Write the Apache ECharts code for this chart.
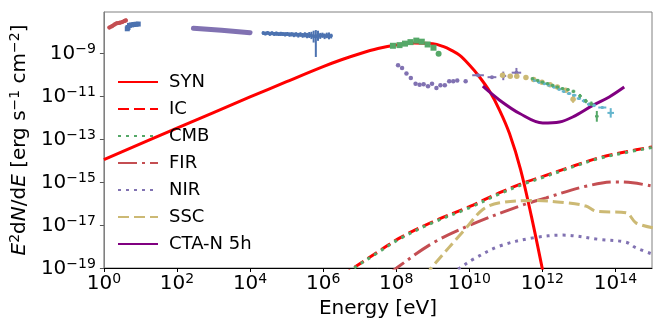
<!DOCTYPE html>
<html><head><meta charset="utf-8">
<script src="https://cdn.jsdelivr.net/npm/echarts@6/dist/echarts.min.js"></script>
<style>html,body{margin:0;padding:0;background:#fff}#c{width:664px;height:332px}</style>
</head><body><div id="c"></div>
<script>
// All values are log10: x = log10(E / eV), y = log10(E^2 dN/dE / erg s^-1 cm^-2)
const xTicks = [0, 2, 4, 6, 8, 10, 12, 14];
const yTicks = [-19, -17, -15, -13, -11, -9];

// ---- model curves ----
const synX = [0, 2, 4, 5, 6, 6.5, 7, 7.5, 8, 8.5, 9, 9.28, 9.5, 9.74, 10.01, 10.28, 10.56, 10.83, 11.1, 11.4, 11.7, 12.0, 12.2];
const synY = [-13.96, -12.50, -11.05, -10.34, -9.64, -9.32, -9.04, -8.80, -8.63, -8.54, -8.57, -8.70, -8.87, -9.12, -9.58, -10.12, -10.80, -11.67, -12.75, -14.40, -16.6, -19.05, -20.8];

const icX = [6.5, 6.83, 7.5, 8.1, 9.0, 10.0, 10.83, 11.56, 12.0, 12.83, 13.56, 14.29, 15.0];
const icY = [-19.4, -19.0, -18.25, -17.6, -16.85, -16.15, -15.5, -15.0, -14.75, -14.27, -13.87, -13.6, -13.37];

const cmbX = [6.5, 6.85, 7.5, 8.1, 9.0, 10.0, 10.83, 11.56, 12.0, 12.83, 13.56, 14.29, 15.0];
const cmbY = [-19.45, -19.0, -18.28, -17.64, -16.89, -16.2, -15.55, -15.05, -14.8, -14.3, -13.9, -13.63, -13.4];

const firX = [7.8, 8.01, 9.01, 10.1, 11.38, 12.1, 13.19, 14.01, 14.47, 15.02];
const firY = [-19.3, -19.0, -17.83, -16.95, -16.12, -15.74, -15.2, -15.0, -15.04, -15.2];

const nirX = [9.5, 9.74, 10.1, 10.83, 11.74, 12.56, 13.56, 14.29, 14.56, 15.02];
const nirY = [-19.25, -19.0, -18.6, -17.98, -17.6, -17.47, -17.67, -17.8, -18.06, -18.36];

const sscX = [8.8, 8.96, 9.92, 10.37, 10.83, 11.74, 12.65, 13.19, 13.47, 14.29, 14.56, 15.02];
const sscY = [-19.4, -19.0, -17.13, -16.28, -15.97, -15.86, -15.97, -16.12, -16.36, -16.43, -16.9, -17.13];

const ctaX = [10.37, 10.83, 11.38, 12.01, 12.47, 12.83, 13.38, 13.83, 14.24];
const ctaY = [-10.55, -11.2, -11.82, -12.26, -12.21, -11.98, -11.44, -11.05, -10.59];

// ---- measured data ----
const radioX = [0.15, 0.22, 0.29, 0.36, 0.43, 0.5, 0.57, 0.6];
const radioY = [-7.82, -7.76, -7.68, -7.62, -7.60, -7.57, -7.51, -7.49];

const irX = [0.64, 0.66, 0.70, 0.76, 0.82, 0.88, 0.94];
const irY = [-7.88, -7.82, -7.72, -7.70, -7.68, -7.67, -7.66];

const uvX = [2.45, 3.22, 4.0];
const uvY = [-7.85, -7.95, -8.06];

const xrX = [4.36, 4.42, 4.48, 4.54, 4.60, 4.66, 4.72, 4.78, 4.84, 4.90, 4.96, 5.02, 5.08, 5.14, 5.20, 5.26, 5.32, 5.38, 5.44, 5.50, 5.56, 5.62, 5.68, 5.74, 5.80, 5.86, 5.92, 5.98, 6.04, 6.10, 6.16, 6.22];
const xrY = [-8.08, -8.10, -8.07, -8.11, -8.09, -8.12, -8.10, -8.13, -8.11, -8.12, -8.14, -8.12, -8.15, -8.13, -8.16, -8.14, -8.17, -8.15, -8.18, -8.16, -8.19, -8.17, -8.20, -8.22, -8.24, -8.19, -8.21, -8.18, -8.22, -8.20, -8.23, -8.21];
const xrErrLo = [0.08, 0.09, 0.08, 0.1, 0.08, 0.09, 0.1, 0.08, 0.1, 0.09, 0.1, 0.09, 0.1, 0.1, 0.11, 0.1, 0.12, 0.1, 0.12, 0.12, 0.13, 0.14, 0.16, 0.3, 0.95, 0.25, 0.14, 0.12, 0.14, 0.12, 0.14, 0.12];
const xrErrHi = [0.08, 0.07, 0.08, 0.08, 0.09, 0.08, 0.09, 0.08, 0.09, 0.08, 0.1, 0.09, 0.1, 0.09, 0.1, 0.1, 0.1, 0.11, 0.1, 0.12, 0.12, 0.14, 0.18, 0.25, 0.3, 0.22, 0.14, 0.12, 0.12, 0.14, 0.18, 0.1];

const fermiX = [7.91, 8.09, 8.24, 8.39, 8.55, 8.70, 8.86, 9.02];
const fermiY = [-8.67, -8.64, -8.57, -8.50, -8.43, -8.48, -8.61, -8.76];
const fermiLastX = [9.16];
const fermiLastY = [-9.04];

const lowX = [8.05, 8.16, 8.28, 8.40, 8.53, 8.64, 8.75, 8.87, 8.98, 9.10, 9.21, 9.33, 9.45, 9.56, 9.67, 9.90];
const lowY = [-9.58, -9.70, -9.96, -10.17, -10.43, -10.48, -10.46, -10.55, -10.43, -10.63, -10.51, -10.51, -10.32, -10.32, -10.28, -10.32];
const lowBinX = [10.24, 10.62, 10.93, 11.29];
const lowBinY = [-10.04, -10.13, -10.07, -9.92];
const lowBinXErr = [0.16, 0.12, 0.08, 0.13];
const lowBinYErr = [0.03, 0.03, 0.2, 0.22];

const magicX = [10.91, 11.12, 11.30, 11.55, 11.76, 11.99, 12.21, 12.41, 12.64, 12.84];
const magicY = [-10.04, -10.09, -10.09, -10.15, -10.24, -10.37, -10.48, -10.59, -10.74, -11.16];
const magicYErr = [0.05, 0.05, 0.05, 0.05, 0.05, 0.05, 0.05, 0.05, 0.06, 0.16];

const hessX = [11.78, 11.91, 12.05, 12.18, 12.32, 12.46, 12.59, 12.73, 12.87, 13.00, 13.14, 13.28, 13.41, 13.64, 13.87];
const hessY = [-10.28, -10.36, -10.43, -10.51, -10.59, -10.69, -10.79, -10.89, -10.97, -11.12, -11.23, -11.39, -11.44, -11.54, -11.79];
const hessXErr = [0.06, 0.06, 0.06, 0.06, 0.06, 0.06, 0.06, 0.06, 0.06, 0.06, 0.06, 0.06, 0.06, 0.11, 0.09];
const hessYErr = [0.06, 0.06, 0.06, 0.06, 0.06, 0.06, 0.06, 0.06, 0.06, 0.07, 0.08, 0.08, 0.08, 0.06, 0.22];

const hawcX = [11.73, 11.87, 12.00, 12.14, 12.28, 12.41, 12.55, 12.70, 12.85, 13.03, 13.19, 13.34, 13.49];
const hawcY = [-10.20, -10.28, -10.36, -10.43, -10.51, -10.59, -10.66, -10.71, -10.79, -11.00, -11.24, -11.36, -11.95];
const hawcXErr = [0.05, 0.05, 0.05, 0.05, 0.05, 0.05, 0.05, 0.05, 0.05, 0.05, 0.05, 0.05, 0.05];
const hawcYErr = [0.07, 0.07, 0.07, 0.07, 0.07, 0.07, 0.07, 0.07, 0.08, 0.09, 0.1, 0.1, 0.25];

// ---- helpers ----
const zip = (xs, ys) => xs.map((x, i) => [x, ys[i]]);
const FONT = 'DejaVu Sans';
const C = {blue: '#4C72B0', green: '#55A868', red: '#C44E52', purple: '#8172B2', khaki: '#CCB974', cyan: '#64B5CD'};

function errData(xs, ys, xl, xh, yl, yh) {
  return xs.map((x, i) => [x, ys[i], xl ? xl[i] : 0, xh ? xh[i] : 0, yl ? yl[i] : 0, yh ? yh[i] : 0]);
}
function errSeries(data, color, lw, z) {
  return {
    type: 'custom', silent: true, z: z || 5, data: data,
    renderItem: function (params, api) {
      const x = api.value(0), y = api.value(1);
      const xl = api.value(2), xh = api.value(3), yl = api.value(4), yh = api.value(5);
      const kids = [];
      const st = {stroke: color, lineWidth: lw};
      if (xl > 0 || xh > 0) {
        const a = api.coord([x - xl, y]), b = api.coord([x + xh, y]);
        kids.push({type: 'line', shape: {x1: a[0], y1: a[1], x2: b[0], y2: b[1]}, style: st});
      }
      if (yl > 0 || yh > 0) {
        const a = api.coord([x, y - yl]), b = api.coord([x, y + yh]);
        kids.push({type: 'line', shape: {x1: a[0], y1: a[1], x2: b[0], y2: b[1]}, style: st});
      }
      return {type: 'group', children: kids};
    }
  };
}
function model(name, xs, ys, color, type, z) {
  return {
    name: name, type: 'line', data: zip(xs, ys), symbol: 'none', smooth: 0.35, z: z || 3,
    lineStyle: {color: color, width: 3, type: type, cap: 'butt'}, itemStyle: {color: color}, clip: true
  };
}
function scat(xs, ys, color, symbol, size, z) {
  return {type: 'scatter', data: zip(xs, ys), symbol: symbol, symbolSize: size, z: z || 6,
          itemStyle: {color: color, opacity: 1}, silent: true};
}
const supTxt = v => (v < 0 ? '\u2212' + (-v) : '' + v);
const tickFmt = v => '{b|10}{s|' + supTxt(v) + '}';
const tickRich = {
  b: {fontFamily: FONT, fontSize: 20, color: '#000', lineHeight: 22, verticalAlign: 'bottom'},
  s: {fontFamily: FONT, fontSize: 14, color: '#000', lineHeight: 14, verticalAlign: 'top'}
};

const chart = echarts.init(document.getElementById('c'), null, {renderer: 'canvas'});
chart.setOption({
  animation: false,
  backgroundColor: '#fff',
  grid: {left: 102, right: 12, top: 12, bottom: 64, show: true, borderColor: '#808080', borderWidth: 1, backgroundColor: 'transparent'},
  xAxis: {
    type: 'value', min: 0, max: 15,
    axisLine: {show: true, onZero: false, lineStyle: {color: '#000', width: 1}},
    axisTick: {show: true, length: 4, inside: false, lineStyle: {color: '#000'}, customValues: xTicks},
    axisLabel: {margin: 4, formatter: tickFmt, rich: tickRich, customValues: xTicks},
    splitLine: {show: false},
    name: 'Energy [eV]', nameLocation: 'middle', nameGap: 29,
    nameTextStyle: {fontFamily: FONT, fontSize: 20, color: '#000'}
  },
  yAxis: {
    type: 'value', min: -19, max: -7.1,
    axisLine: {show: true, onZero: false, lineStyle: {color: '#808080', width: 1}},
    axisTick: {show: true, length: 4, lineStyle: {color: '#555'}, customValues: yTicks},
    axisLabel: {margin: 8, formatter: tickFmt, rich: tickRich, customValues: yTicks},
    splitLine: {show: false},
    name: '{i|E}{s|2}{n|d}{i|N}{n|/d}{i|E}{n| [erg s}{s|\u22121}{n| cm}{s|\u22122}{n|]}',
    nameLocation: 'middle', nameRotate: 90, nameGap: 59,
    nameTextStyle: {
      rich: {
        n: {fontFamily: FONT, fontSize: 20, color: '#000', lineHeight: 22, verticalAlign: 'bottom'},
        i: {fontFamily: FONT, fontSize: 20, fontStyle: 'italic', color: '#000', lineHeight: 22, verticalAlign: 'bottom'},
        s: {fontFamily: FONT, fontSize: 14, color: '#000', lineHeight: 14, verticalAlign: 'top'}
      }
    }
  },
  legend: {
    orient: 'vertical', left: 112, top: 67, itemWidth: 40, itemHeight: 14, itemGap: 7,
    data: ['SYN', 'IC', 'CMB', 'FIR', 'NIR', 'SSC', 'CTA-N 5h'],
    itemStyle: {opacity: 0},
    textStyle: {fontFamily: FONT, fontSize: 18, color: '#000', lineHeight: 20, padding: [0, 0, 0, 6]},
    selectedMode: false
  },
  series: [
    model('SYN', synX, synY, 'red', 'solid', 2),
    model('IC', icX, icY, 'red', [11, 5], 3),
    model('CMB', cmbX, cmbY, C.green, [3, 5], 4),
    model('FIR', firX, firY, C.red, [19, 5, 3, 5], 4),
    model('NIR', nirX, nirY, C.purple, [3, 5], 4),
    model('SSC', sscX, sscY, C.khaki, [11, 5], 4),
    model('CTA-N 5h', ctaX, ctaY, '#800080', 'solid', 4),
    // data
    {type: 'line', data: zip(radioX, radioY), symbol: 'circle', symbolSize: 4, smooth: 0.3, z: 6,
     lineStyle: {color: C.red, width: 4, cap: 'round'}, itemStyle: {color: C.red}, silent: true},
    scat(irX, irY, C.blue, 'rect', 5, 6),
    {type: 'line', data: zip(uvX, uvY), symbol: 'none', z: 6,
     lineStyle: {color: C.purple, width: 5, cap: 'round'}, silent: true},
    errSeries(errData(xrX, xrY, null, null, xrErrLo, xrErrHi), C.blue, 2, 6),
    {type: 'line', data: zip(xrX, xrY), symbol: 'none', z: 6,
     lineStyle: {color: C.blue, width: 3.5, cap: 'round', join: 'round'}, silent: true},
    scat(fermiX, fermiY, C.green, 'rect', 6, 7),
    errSeries(errData(fermiLastX, fermiLastY, null, null, [0.08], [0.08]), C.green, 1.5, 7),
    scat(fermiLastX, fermiLastY, C.green, 'circle', 6, 7),
    scat(lowX, lowY, C.purple, 'circle', 4.5, 7),
    errSeries(errData(lowBinX, lowBinY, lowBinXErr, lowBinXErr, lowBinYErr, lowBinYErr), C.purple, 2, 7),
    scat(lowBinX, lowBinY, C.purple, 'circle', 4, 7),
    errSeries(errData(magicX, magicY, null, null, magicYErr, magicYErr), C.khaki, 2, 7),
    scat(magicX, magicY, C.khaki, 'circle', 5.5, 7),
    errSeries(errData(hessX, hessY, hessXErr, hessXErr, hessYErr, hessYErr), C.cyan, 2, 7),
    scat(hessX, hessY, C.cyan, 'circle', 3, 7),
    errSeries(errData(hawcX, hawcY, hawcXErr, hawcXErr, hawcYErr, hawcYErr), C.green, 2, 8),
    scat(hawcX, hawcY, C.green, 'circle', 2.5, 8)
  ]
});
</script>
</body></html>
